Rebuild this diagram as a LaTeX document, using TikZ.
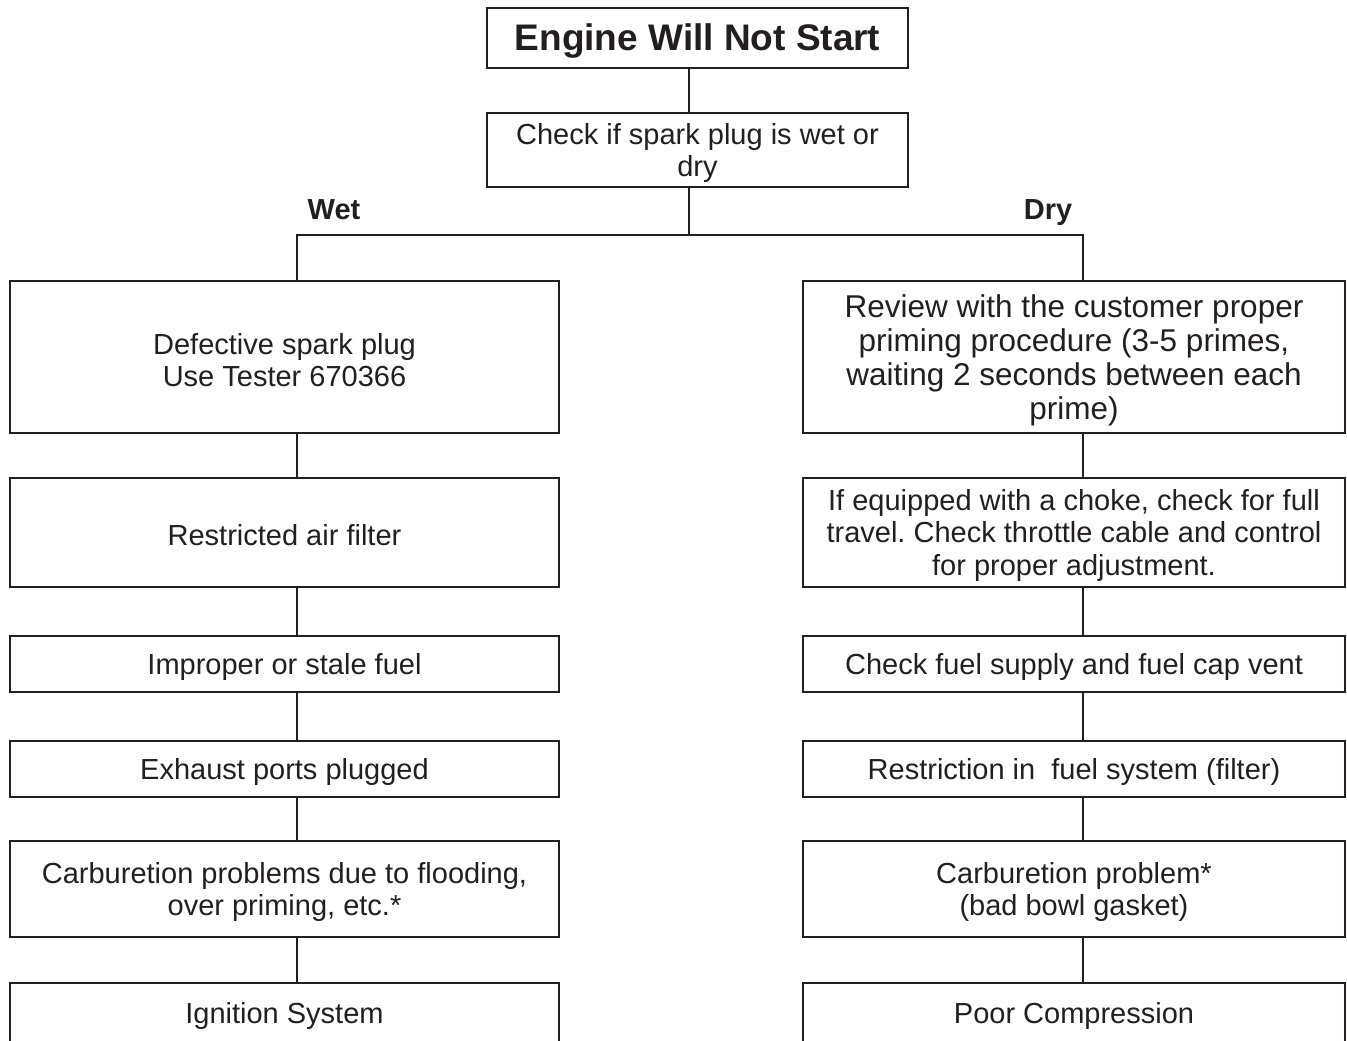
\documentclass[tikz,border=0pt]{standalone}
\usepackage{fontspec}
\setmainfont{Liberation Sans}
\frenchspacing
\definecolor{ink}{HTML}{231F20}
\newcommand\dn{\rule{0pt}{27pt}}
\newcommand\dnb{\rule{0pt}{29.5pt}}
\newcommand\dnt{\rule{0pt}{33pt}}
\begin{document}
\begin{tikzpicture}[x={(1pt,0)},y={(0,-1pt)},
  box/.style={draw=ink,line width=2pt,inner sep=0pt,align=center,text=ink,
    font=\fontsize{29}{32.5}\selectfont},
  lbox/.style={box,minimum width=549pt},
  rbox/.style={box,minimum width=542pt},
  conn/.style={draw=ink,line width=2pt},
  lab/.style={text=ink,font=\fontsize{29}{32}\selectfont\bfseries,inner sep=0pt,anchor=base}]
\useasboundingbox (0,0) rectangle (1347,1041);
\fill[white] (0,0) rectangle (1347,1041);
\node[box,minimum width=421pt,minimum height=60pt,font=\fontsize{37}{40}\selectfont\bfseries] (title) at (697.5,38) {\dnt Engine Will Not Start};
\node[box,minimum width=421pt,minimum height=74pt] (check) at (697.5,150) {\dn Check if spark plug is wet or\\dry};
\node[lab] (wet) at (334,219.5) {Wet};
\node[lab] (dry) at (1048,219.5) {Dry};
% left column
\node[lbox,minimum height=152pt] (l1) at (284.5,357) {\dn Defective spark plug\\Use Tester 670366};
\node[lbox,minimum height=109pt] (l2) at (284.5,532.5) {\dn Restricted air filter};
\node[lbox,minimum height=56pt] (l3) at (284.5,664) {\dn Improper or stale fuel};
\node[lbox,minimum height=56pt] (l4) at (284.5,769) {\dn Exhaust ports plugged};
\node[lbox,minimum height=96pt] (l5) at (284.5,889) {\dn Carburetion problems due to flooding,\\over priming, etc.*};
\node[lbox,minimum height=60pt] (l6) at (284.5,1013) {\dn Ignition System};
% right column
\node[rbox,minimum height=152pt,font=\fontsize{31.5}{34.3}\selectfont] (r1) at (1074,357) {\dnb Review with the customer proper\\priming procedure (3-5 primes,\\waiting 2 seconds between each\\prime)};
\node[rbox,minimum height=109pt] (r2) at (1074,532.5) {\dn If equipped with a choke, check for full\\travel. Check throttle cable and control\\for proper adjustment.};
\node[rbox,minimum height=56pt] (r3) at (1074,664) {\dn Check fuel supply and fuel cap vent};
\node[rbox,minimum height=56pt] (r4) at (1074,769) {\dn Restriction in\ \ fuel system (filter)};
\node[rbox,minimum height=96pt] (r5) at (1074,889) {\dn Carburetion problem*\\(bad bowl gasket)};
\node[rbox,minimum height=60pt] (r6) at (1074,1013) {\dn Poor Compression};
% connectors
\coordinate (mbus) at (689,235);
\coordinate (lbus) at (297,235);
\coordinate (rbus) at (1083,235);
\draw[conn] (title.south -| mbus) -- (check.north -| mbus);
\draw[conn] (check.south -| mbus) -- (mbus);
\draw[conn] (l1.north -| lbus) -- (lbus) -- (rbus) -- (r1.north -| rbus);
\foreach \a/\b in {l1/l2,l2/l3,l3/l4,l4/l5,l5/l6}
  \draw[conn] (\a.south -| lbus) -- (\b.north -| lbus);
\foreach \a/\b in {r1/r2,r2/r3,r3/r4,r4/r5,r5/r6}
  \draw[conn] (\a.south -| rbus) -- (\b.north -| rbus);
\end{tikzpicture}
\end{document}
